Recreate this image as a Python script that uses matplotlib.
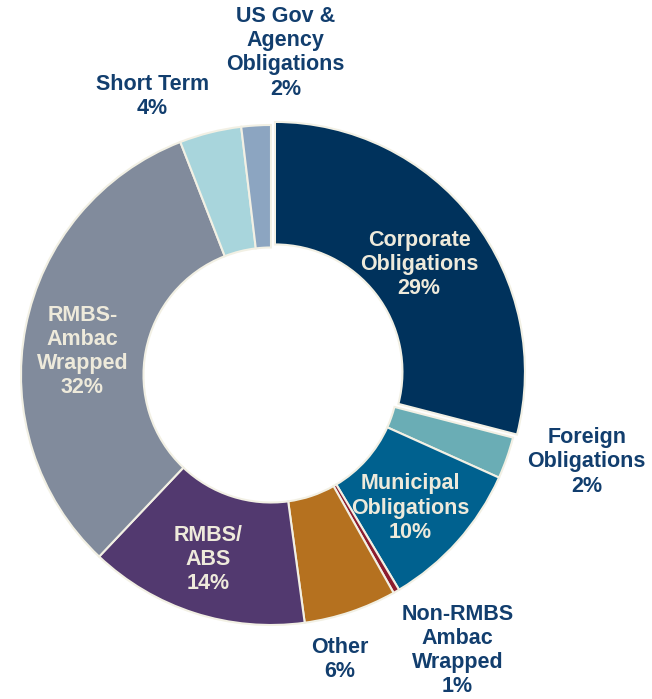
import matplotlib.pyplot as plt
import numpy as np

plt.rcParams['font.family'] = ['Liberation Sans', 'DejaVu Sans']

labels = ['Corporate\nObligations\n29%', 'Foreign\nObligations\n2%', 'Municipal\nObligations\n10%',
          'Non-RMBS\nAmbac\nWrapped\n1%', 'Other\n6%', 'RMBS/\nABS\n14%',
          'RMBS-\nAmbac\nWrapped\n32%', 'Short Term\n4%', 'US Gov &\nAgency\nObligations\n2%']
values = [29.0, 2.7, 9.7, 0.4, 6.0, 14.2, 32.0, 4.0, 1.9]
colors = ['#00325c', '#6aadb5', '#00618f', '#8c1c2e', '#b5711f', '#52396f',
          '#818b9c', '#a8d5dc', '#8ca5c1']
inside = [True, False, True, False, False, True, True, False, False]
# label radius and angle nudge (deg) from the wedge middle
lab_r = [0.74, 1.31, 0.77, 1.33, 1.17, 0.78, 0.76, 1.21, 1.29]
lab_da = [-1, 4, -2, 4, -5, -1, 4, 9, -6]

fig = plt.figure(figsize=(6.52, 6.99), dpi=100)
ax = fig.add_axes([0, 0, 1, 1])

explode = [0.02] + [0] * (len(values) - 1)
wedges, _ = ax.pie(values, colors=colors, startangle=90, counterclock=False,
                   explode=explode, radius=1.0,
                   wedgeprops=dict(width=0.49, edgecolor='#f2f0e4', linewidth=1.5))

for w, lab, ins, r, da in zip(wedges, labels, inside, lab_r, lab_da):
    th = np.deg2rad((w.theta1 + w.theta2) / 2 + da)
    ax.text(r * np.cos(th), r * np.sin(th), lab, ha='center', va='center',
            fontsize=15.5, fontweight='bold', linespacing=1.2,
            color='#eeeadb' if ins else '#123e6e')

ax.set_xlim(-271 / 250, (652 - 271) / 250)
ax.set_ylim(-(699 - 375) / 250, 375 / 250)
ax.set_aspect('equal')
ax.axis('off')

fig.savefig('out.png', dpi=100)
